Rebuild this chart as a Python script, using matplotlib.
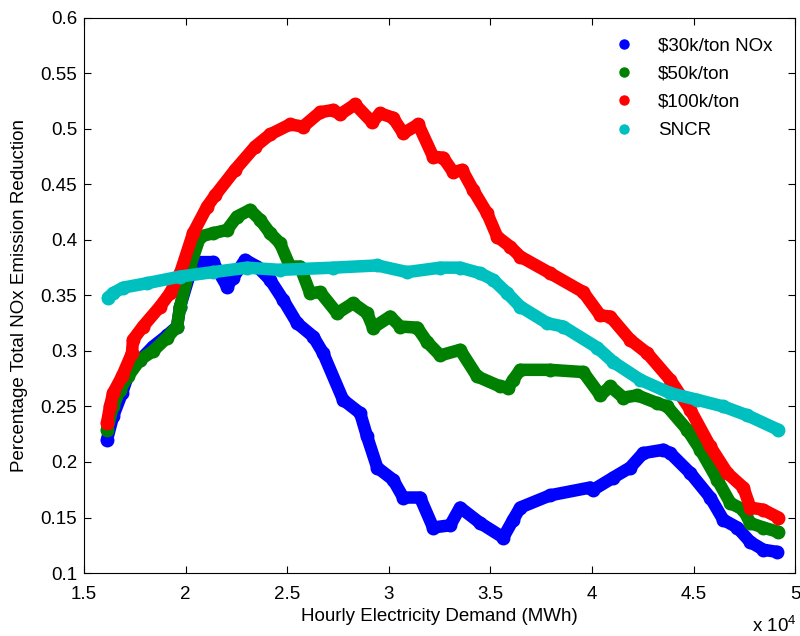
import matplotlib
matplotlib.use('agg')
import matplotlib.pyplot as plt

plt.rcParams['font.family'] = ['Liberation Sans', 'DejaVu Sans']
plt.rcParams['mathtext.fontset'] = 'custom'
plt.rcParams['mathtext.rm'] = 'Liberation Sans'

# demand in units of 10^4 MWh, reduction as a fraction
x_30k = [1.613, 1.643, 1.687, 1.726, 1.776, 1.840, 1.909, 1.958, 1.973, 2.022, 2.056,
         2.135, 2.204, 2.234, 2.293, 2.352, 2.416, 2.480, 2.549, 2.628, 2.677, 2.775,
         2.859, 2.893, 2.943, 3.021, 3.071, 3.154, 3.218, 3.302, 3.351, 3.450, 3.563,
         3.612, 3.647, 3.794, 3.991, 4.006, 4.105, 4.188, 4.252, 4.351, 4.385, 4.484,
         4.582, 4.646, 4.715, 4.779, 4.843, 4.912]
y_30k = [0.220, 0.241, 0.262, 0.283, 0.292, 0.304, 0.314, 0.322, 0.340, 0.370, 0.380,
         0.380, 0.358, 0.366, 0.382, 0.376, 0.364, 0.346, 0.325, 0.313, 0.298, 0.256,
         0.244, 0.223, 0.195, 0.184, 0.168, 0.168, 0.141, 0.143, 0.159, 0.145, 0.132,
         0.148, 0.159, 0.170, 0.177, 0.175, 0.186, 0.195, 0.208, 0.211, 0.208, 0.190,
         0.168, 0.148, 0.141, 0.128, 0.121, 0.119]

x_50k = [1.613, 1.643, 1.677, 1.716, 1.776, 1.840, 1.909, 1.958, 1.973, 2.022, 2.071,
         2.135, 2.204, 2.253, 2.317, 2.367, 2.416, 2.465, 2.514, 2.563, 2.613, 2.662,
         2.746, 2.824, 2.893, 2.923, 3.007, 3.056, 3.140, 3.189, 3.253, 3.351, 3.435,
         3.548, 3.588, 3.612, 3.647, 3.794, 3.957, 4.041, 4.090, 4.154, 4.223, 4.321,
         4.370, 4.469, 4.533, 4.617, 4.681, 4.745, 4.779, 4.843, 4.917]
y_50k = [0.229, 0.250, 0.265, 0.277, 0.292, 0.300, 0.312, 0.322, 0.340, 0.376, 0.403,
         0.406, 0.409, 0.421, 0.427, 0.418, 0.406, 0.397, 0.376, 0.376, 0.352, 0.353,
         0.334, 0.343, 0.334, 0.321, 0.331, 0.322, 0.321, 0.308, 0.296, 0.301, 0.277,
         0.268, 0.267, 0.274, 0.283, 0.283, 0.281, 0.260, 0.268, 0.258, 0.260, 0.253,
         0.250, 0.229, 0.211, 0.184, 0.163, 0.157, 0.145, 0.141, 0.137]

x_100k = [1.613, 1.628, 1.643, 1.687, 1.736, 1.741, 1.790, 1.874, 1.923, 1.973, 2.037,
          2.106, 2.145, 2.243, 2.342, 2.416, 2.514, 2.578, 2.662, 2.726, 2.760, 2.834,
          2.918, 2.957, 3.021, 3.071, 3.145, 3.218, 3.268, 3.317, 3.361, 3.415, 3.484,
          3.533, 3.597, 3.647, 3.794, 3.957, 4.041, 4.090, 4.188, 4.272, 4.385, 4.484,
          4.582, 4.666, 4.745, 4.779, 4.843, 4.917]
y_100k = [0.235, 0.250, 0.262, 0.277, 0.298, 0.310, 0.322, 0.340, 0.352, 0.370, 0.406,
          0.430, 0.440, 0.463, 0.484, 0.495, 0.504, 0.502, 0.515, 0.517, 0.513, 0.522,
          0.506, 0.514, 0.510, 0.496, 0.504, 0.475, 0.474, 0.461, 0.463, 0.445, 0.424,
          0.403, 0.394, 0.385, 0.370, 0.353, 0.332, 0.331, 0.310, 0.298, 0.274, 0.247,
          0.214, 0.190, 0.177, 0.159, 0.157, 0.150]

x_sncr = [1.618, 1.643, 1.692, 1.810, 1.973, 2.135, 2.303, 2.465, 2.726, 2.943, 3.090,
          3.253, 3.351, 3.450, 3.514, 3.583, 3.647, 3.780, 3.858, 4.026, 4.105, 4.238,
          4.385, 4.518, 4.646, 4.764, 4.917]
y_sncr = [0.348, 0.352, 0.357, 0.361, 0.367, 0.371, 0.375, 0.373, 0.375, 0.377, 0.371,
          0.375, 0.375, 0.370, 0.364, 0.352, 0.340, 0.325, 0.322, 0.303, 0.290, 0.274,
          0.262, 0.256, 0.250, 0.242, 0.229]

series = [
    (x_30k, y_30k, '$30k/ton NOx', (0, 0, 1)),
    (x_50k, y_50k, '$50k/ton', (0, 0.5, 0)),
    (x_100k, y_100k, '$100k/ton', (1, 0, 0)),
    (x_sncr, y_sncr, 'SNCR', (0, 0.75, 0.75)),
]

FS = 13.5

fig = plt.figure(figsize=(8, 6.36), dpi=100)
ax = fig.add_axes([0.105, 0.099, 0.889, 0.873])

for xs, ys, name, col in series:
    ax.plot(xs, ys, color=col, lw=9, solid_joinstyle='round',
            solid_capstyle='round', marker='o', ms=9, label=name.replace('$', r'\$'))

ax.set_xlim(1.5, 5)
ax.set_ylim(0.1, 0.6)
ax.set_xticks([1.5, 2, 2.5, 3, 3.5, 4, 4.5, 5])
ax.set_xticklabels(['1.5', '2', '2.5', '3', '3.5', '4', '4.5', '5'])
ax.set_yticks([0.1, 0.15, 0.2, 0.25, 0.3, 0.35, 0.4, 0.45, 0.5, 0.55, 0.6])
ax.set_yticklabels(['0.1', '0.15', '0.2', '0.25', '0.3', '0.35', '0.4', '0.45', '0.5', '0.55', '0.6'])
ax.tick_params(direction='in', length=5, width=0.8, top=True, right=True, labelsize=FS)
ax.tick_params(axis='x', pad=9)
ax.tick_params(axis='y', pad=5)
for s in ax.spines.values():
    s.set_linewidth(0.8)

ax.set_xlabel('Hourly Electricity Demand (MWh)', fontsize=FS, labelpad=4)
ax.set_ylabel('Percentage Total NOx Emission Reduction', fontsize=FS, labelpad=9)
fig.text(0.94, 0.006, r'x 10$^4$', fontsize=FS)

leg = ax.legend(loc='upper right', bbox_to_anchor=(1, 1.006), frameon=False, fontsize=FS,
                handlelength=1.2, handletextpad=1.2, labelspacing=0.6, borderaxespad=0.8)
for h in leg.legend_handles:
    h.set_linestyle('None')
    h.set_markersize(6.5)

fig.savefig('out.png', dpi=100)
